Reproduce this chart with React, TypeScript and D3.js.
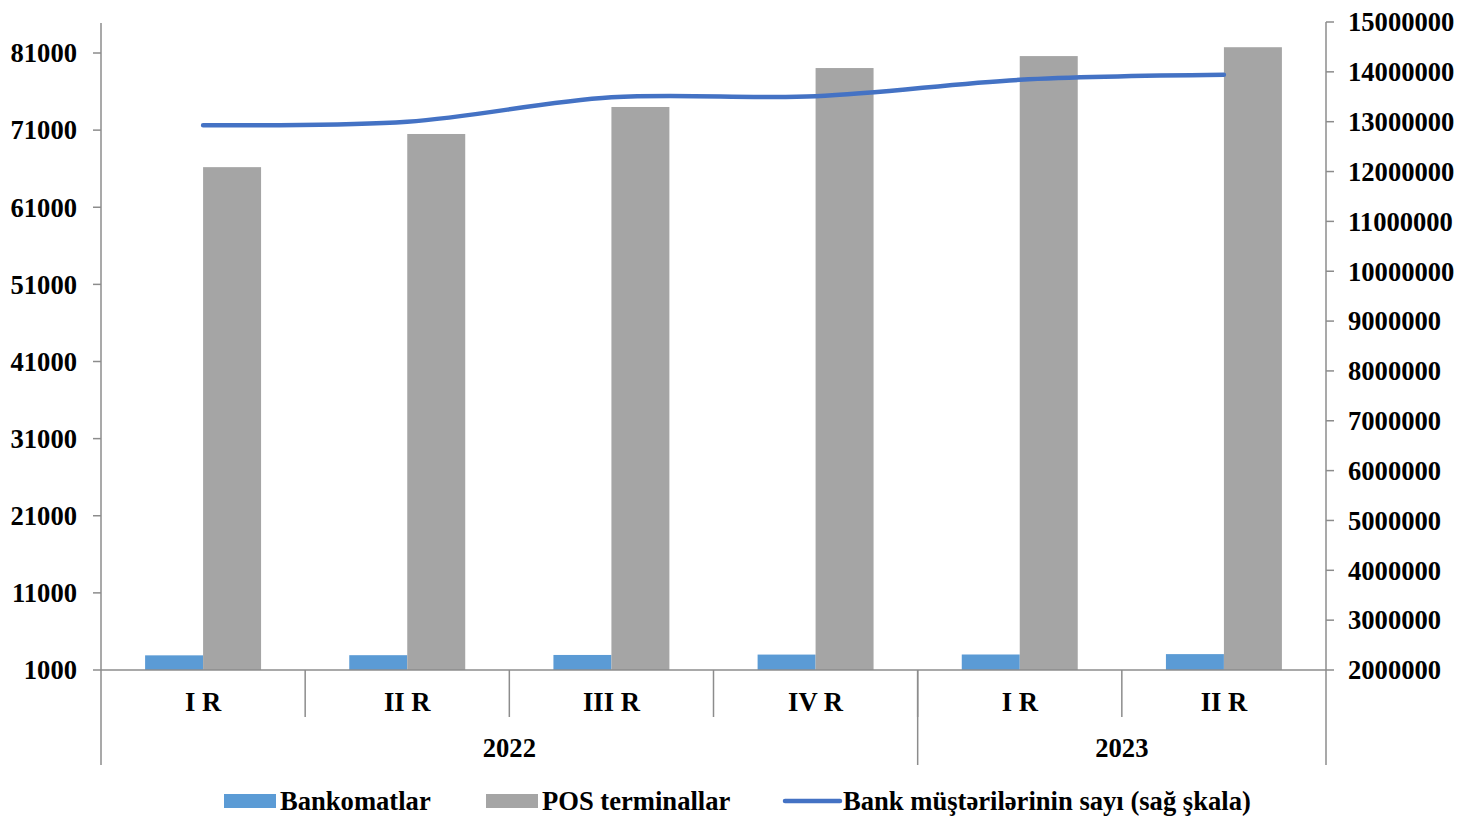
import * as d3 from "d3";

const quarters = ["I R", "II R", "III R", "IV R", "I R", "II R"];
const years = [
  { label: "2022", span: 4 },
  { label: "2023", span: 2 },
];
const atms = [2900, 2920, 2950, 3000, 3010, 3060];
const posTerminals = [66200, 70500, 74000, 79050, 80600, 81750];
const customers = [12930000, 13000000, 13490000, 13510000, 13840000, 13940000];
const leftTicks = [1000, 11000, 21000, 31000, 41000, 51000, 61000, 71000, 81000];
const rightTicks = d3.range(2000000, 15000001, 1000000);

const W = 1458;
const H = 816;
const LEFT = 101;
const RIGHT = 1326;
const TOP = 22;
const BOTTOM = 670;

const FONT = "'Liberation Serif', 'Times New Roman', serif";
const FS = 26.6;
const AXIS = "#8c8c8c";

const App = () => {
  const yL = d3.scaleLinear().domain([1000, 85020]).range([BOTTOM, TOP]);
  const yR = d3.scaleLinear().domain([2000000, 15000000]).range([BOTTOM, TOP]);
  const x0 = d3
    .scaleBand<number>()
    .domain(d3.range(quarters.length))
    .range([LEFT, RIGHT]);
  const bw = x0.bandwidth();
  const gap = bw * 0.216;
  const x1 = d3
    .scaleBand<string>()
    .domain(["atm", "pos"])
    .range([gap, bw - gap]);

  const line = d3
    .line<number>()
    .x((_, i) => (x0(i) as number) + bw / 2)
    .y((d) => yR(d))
    .curve(d3.curveCatmullRom.alpha(0.5));

  // year separators
  let acc = 0;
  const yearBlocks = years.map((y) => {
    const start = LEFT + acc * bw;
    acc += y.span;
    return { ...y, start, end: LEFT + acc * bw };
  });

  return (
    <svg
      width={W}
      height={H}
      style={{ position: "absolute", left: 0, top: 0, background: "#fff" }}
      fontFamily={FONT}
      fontWeight="bold"
    >
      {/* bars */}
      {quarters.map((_, i) => (
        <g key={i} transform={`translate(${x0(i)},0)`}>
          <rect
            x={x1("atm")}
            y={yL(atms[i])}
            width={x1.bandwidth()}
            height={BOTTOM - yL(atms[i])}
            fill="#5b9bd5"
          />
          <rect
            x={x1("pos")}
            y={yL(posTerminals[i])}
            width={x1.bandwidth()}
            height={BOTTOM - yL(posTerminals[i])}
            fill="#a5a5a5"
          />
        </g>
      ))}

      {/* line on right scale */}
      <path
        d={line(customers) ?? ""}
        fill="none"
        stroke="#4472c4"
        strokeWidth={4.5}
        strokeLinecap="round"
      />

      {/* left axis */}
      <line x1={LEFT} x2={LEFT} y1={TOP + 1} y2={765} stroke={AXIS} strokeWidth={1.5} />
      {leftTicks.map((t) => (
        <g key={t} transform={`translate(0,${yL(t)})`}>
          <line x1={LEFT - 8} x2={LEFT} stroke={AXIS} strokeWidth={1.5} />
          <text x={77} dy="0.35em" textAnchor="end" fontSize={FS}>
            {t}
          </text>
        </g>
      ))}

      {/* right axis */}
      <line x1={RIGHT} x2={RIGHT} y1={TOP} y2={765} stroke={AXIS} strokeWidth={1.5} />
      {rightTicks.map((t) => (
        <g key={t} transform={`translate(0,${yR(t)})`}>
          <line x1={RIGHT} x2={RIGHT + 8} stroke={AXIS} strokeWidth={1.5} />
          <text x={1348} dy="0.35em" textAnchor="start" fontSize={FS}>
            {t}
          </text>
        </g>
      ))}

      {/* category axis */}
      <line x1={LEFT} x2={RIGHT} y1={BOTTOM} y2={BOTTOM} stroke={AXIS} strokeWidth={1.5} />
      {quarters.map((q, i) => (
        <g key={i}>
          {i > 0 && (
            <line
              x1={x0(i)}
              x2={x0(i)}
              y1={BOTTOM}
              y2={717}
              stroke={AXIS}
              strokeWidth={1.5}
            />
          )}
          <text
            x={(x0(i) as number) + bw / 2}
            y={711}
            textAnchor="middle"
            fontSize={FS}
          >
            {q}
          </text>
        </g>
      ))}
      {yearBlocks.map((y, i) => (
        <g key={y.label}>
          {i > 0 && (
            <line x1={y.start} x2={y.start} y1={BOTTOM} y2={765} stroke={AXIS} strokeWidth={1.5} />
          )}
          <text x={(y.start + y.end) / 2} y={757} textAnchor="middle" fontSize={FS}>
            {y.label}
          </text>
        </g>
      ))}

      {/* legend */}
      <g fontSize={FS}>
        <rect x={224} y={794} width={52} height={14} fill="#5b9bd5" />
        <text x={280} y={810}>Bankomatlar</text>
        <rect x={486} y={794} width={52} height={14} fill="#a5a5a5" />
        <text x={542} y={810}>POS terminallar</text>
        <line x1={785} x2={840} y1={801} y2={801} stroke="#4472c4" strokeWidth={4.5} strokeLinecap="round" />
        <text x={843} y={810}>Bank müştərilərinin sayı (sağ şkala)</text>
      </g>
    </svg>
  );
};

export default App;
